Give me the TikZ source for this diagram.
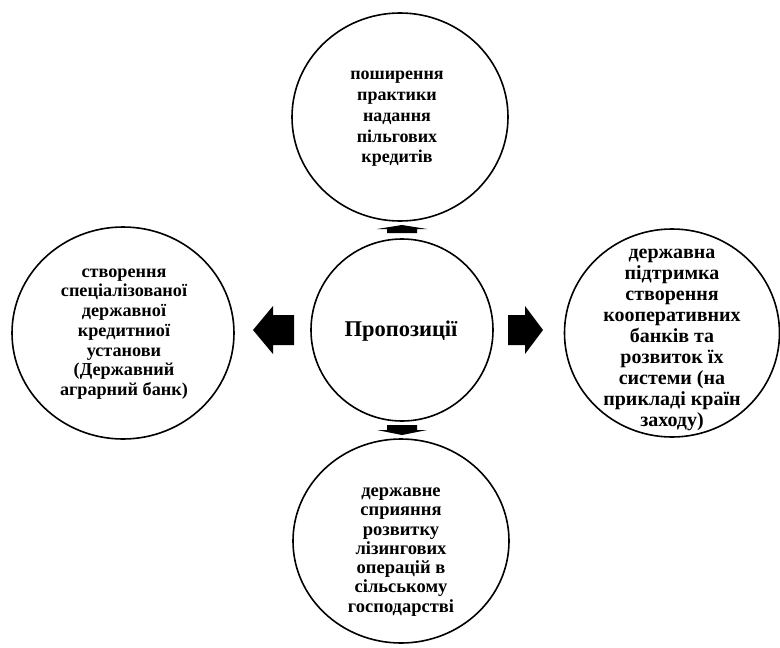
\documentclass[tikz,border=0pt]{standalone}
\usepackage{fontspec}
\setmainfont{Liberation Serif}
\usetikzlibrary{shapes.geometric}
\begin{document}
\begin{tikzpicture}[x=1pt,y=-1pt,
  bub/.style={draw, line width=1.6pt, ellipse, inner sep=0pt},
  txt/.style={align=center, inner sep=0pt},
  blk/.style={fill=black}]
\useasboundingbox (0,0) rectangle (780,648);
% circles
\node[bub, minimum width=216pt, minimum height=208pt] (top) at (400,117) {};
\node[bub, minimum width=216pt, minimum height=204pt] (bot) at (401,541) {};
\node[bub, minimum width=222pt, minimum height=212pt] (lft) at (123,333) {};
\node[bub, minimum width=215pt, minimum height=208pt] (rgt) at (672,333) {};
\node[bub, minimum width=182pt, minimum height=182pt] (mid) at (402,330) {};
% texts
\node[txt, font=\bfseries\fontsize{18}{20.7}\selectfont] (ttop) at (397,119) {поширення\\практики\\надання\\пільгових\\кредитів};
\node[txt, font=\bfseries\fontsize{18.5}{19.3}\selectfont] (tbot) at (401,552) {державне\\сприяння\\розвитку\\лізингових\\операцій в\\сільському\\господарстві};
\node[txt, font=\bfseries\fontsize{18.2}{19.7}\selectfont] (tlft) at (124,334) {створення\\спеціалізованої\\державної\\кредитниої\\установи\\(Державний\\аграрний банк)};
\node[txt, font=\bfseries\fontsize{20}{20.9}\selectfont] (trgt) at (672,340) {державна\\підтримка\\створення\\кооперативних\\банків та\\розвиток їх\\системи (на\\прикладі країн\\заходу)};
\node[txt, font=\bfseries\fontsize{22.5}{24}\selectfont] (tmid) at (401,331) {Пропозиції};
% block arrows
\fill[blk] (253,330) -- (273,306) -- (273,315) -- (294,315) -- (294,345) -- (273,345) -- (273,354) -- cycle;
\fill[blk] (543,330) -- (525,306) -- (525,315) -- (508,315) -- (508,345) -- (525,345) -- (525,354) -- cycle;
\fill[blk] (402,225) -- (427,229) -- (417,229) -- (417,233) -- (387,233) -- (387,229) -- (377,229) -- cycle;
\fill[blk] (402,435) -- (427,430) -- (417,430) -- (417,425) -- (387,425) -- (387,430) -- (377,430) -- cycle;
\end{tikzpicture}
\end{document}
